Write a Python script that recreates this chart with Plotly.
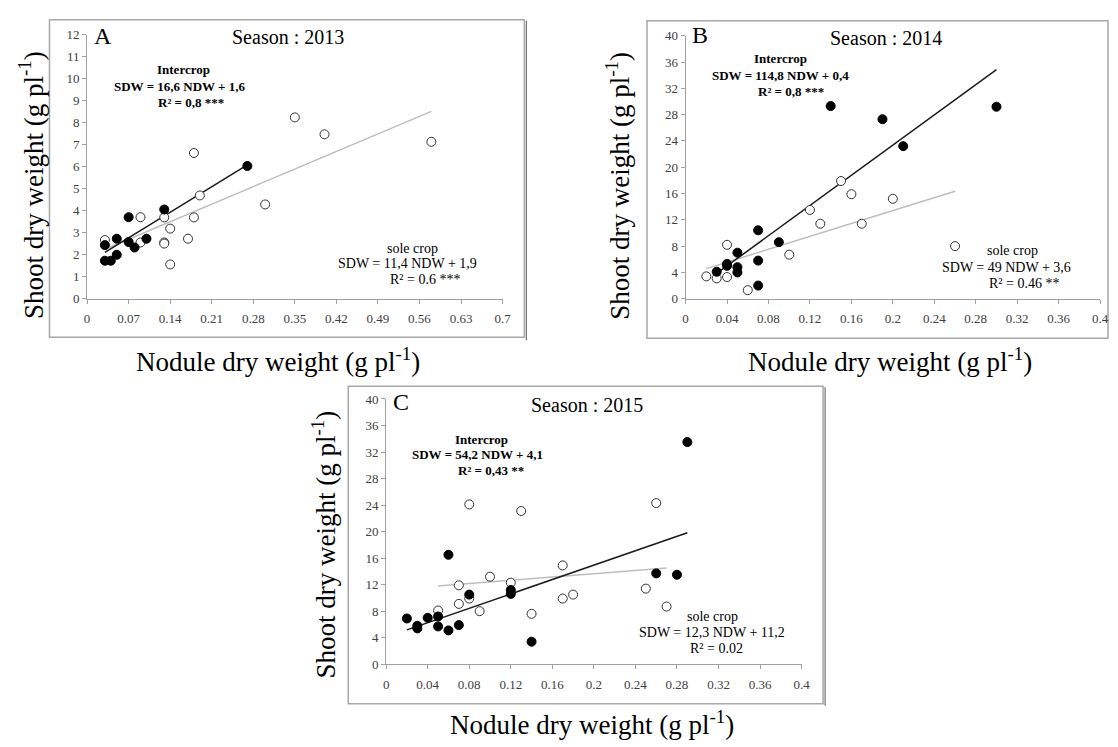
import plotly.graph_objects as go

W, H = 1118, 747
SERIF = "Liberation Serif"

# ---- Season 2013 (panel A) ----
a_inter_ndw = [0.03, 0.04, 0.03, 0.05, 0.05, 0.07, 0.07, 0.08, 0.10, 0.13, 0.27]
a_inter_sdw = [1.72, 1.72, 2.43, 1.99, 2.72, 3.70, 2.57, 2.32, 2.72, 4.05, 6.03]
a_sole_ndw = [0.03, 0.09, 0.09, 0.13, 0.13, 0.13, 0.14, 0.14, 0.17, 0.18, 0.18, 0.19, 0.30, 0.35, 0.40, 0.58]
a_sole_sdw = [2.66, 3.70, 2.55, 3.69, 2.55, 2.50, 3.18, 1.55, 2.72, 6.62, 3.69, 4.69, 4.28, 8.24, 7.47, 7.13]
a_inter_fit = (16.6, 1.6)
a_sole_fit = (11.4, 1.9)

# ---- Season 2014 (panel B) ----
b_inter_ndw = [0.03, 0.04, 0.04, 0.05, 0.05, 0.05, 0.07, 0.07, 0.07, 0.09, 0.14, 0.19, 0.21, 0.30]
b_inter_sdw = [4.1, 5.3, 5.0, 7.0, 4.8, 4.0, 10.4, 5.8, 2.0, 8.6, 29.3, 27.3, 23.2, 29.2]
b_sole_ndw = [0.02, 0.03, 0.04, 0.04, 0.06, 0.10, 0.12, 0.13, 0.15, 0.16, 0.17, 0.20, 0.26]
b_sole_sdw = [3.4, 3.1, 3.3, 8.2, 1.3, 6.7, 13.5, 11.4, 17.9, 15.9, 11.4, 15.2, 8.0]
b_inter_fit = (114.8, 0.4)
b_sole_fit = (49.0, 3.6)

# ---- Season 2015 (panel C) ----
c_inter_ndw = [0.02, 0.03, 0.03, 0.04, 0.05, 0.05, 0.06, 0.06, 0.07, 0.08, 0.12, 0.12, 0.14, 0.26, 0.28, 0.29]
c_inter_sdw = [6.9, 5.8, 5.4, 7.0, 7.2, 5.7, 5.1, 16.5, 5.9, 10.5, 11.2, 10.6, 3.4, 13.7, 13.5, 33.5]
c_sole_ndw = [0.05, 0.07, 0.07, 0.08, 0.08, 0.09, 0.10, 0.12, 0.13, 0.14, 0.17, 0.17, 0.18, 0.25, 0.26, 0.27]
c_sole_sdw = [8.1, 11.9, 9.1, 24.1, 9.9, 8.0, 13.2, 12.3, 23.1, 7.6, 14.9, 9.9, 10.5, 11.4, 24.3, 8.7]
c_inter_fit = (54.2, 4.1)
c_sole_fit = (12.3, 11.2)

# tick labels
x_ticks_a = [0, 0.07, 0.14, 0.21, 0.28, 0.35, 0.42, 0.49, 0.56, 0.63, 0.7]
x_ticks_bc = [0, 0.04, 0.08, 0.12, 0.16, 0.2, 0.24, 0.28, 0.32, 0.36, 0.4]
y_ticks_a = list(range(0, 13))
y_ticks_bc = list(range(0, 41, 4))


def px(x, y):
    """pixel position -> paper coordinates"""
    return x / W, 1 - y / H


fig = go.Figure()

panels = [
    dict(key="", ndw_i=a_inter_ndw, sdw_i=a_inter_sdw, ndw_s=a_sole_ndw, sdw_s=a_sole_sdw,
         fi=a_inter_fit, fs=a_sole_fit),
    dict(key="2", ndw_i=b_inter_ndw, sdw_i=b_inter_sdw, ndw_s=b_sole_ndw, sdw_s=b_sole_sdw,
         fi=b_inter_fit, fs=b_sole_fit),
    dict(key="3", ndw_i=c_inter_ndw, sdw_i=c_inter_sdw, ndw_s=c_sole_ndw, sdw_s=c_sole_sdw,
         fi=c_inter_fit, fs=c_sole_fit),
]

for p in panels:
    xa, ya = "x" + p["key"], "y" + p["key"]
    # regression lines across the range of each series
    for xs, fit, col in [(p["ndw_s"], p["fs"], "#bdbdbd"), (p["ndw_i"], p["fi"], "#1a1a1a")]:
        x0, x1 = min(xs), max(xs)
        fig.add_trace(go.Scatter(
            x=[x0, x1], y=[fit[0] * x0 + fit[1], fit[0] * x1 + fit[1]],
            mode="lines", line=dict(color=col, width=1.5),
            xaxis=xa, yaxis=ya, showlegend=False, hoverinfo="skip", cliponaxis=False))
    fig.add_trace(go.Scatter(
        x=p["ndw_s"], y=p["sdw_s"], mode="markers",
        marker=dict(size=9, color="white", line=dict(color="#333333", width=1)),
        xaxis=xa, yaxis=ya, showlegend=False, cliponaxis=False, name="sole crop"))
    fig.add_trace(go.Scatter(
        x=p["ndw_i"], y=p["sdw_i"], mode="markers",
        marker=dict(size=9, color="black", line=dict(color="black", width=1)),
        xaxis=xa, yaxis=ya, showlegend=False, cliponaxis=False, name="Intercrop"))

axis_common = dict(
    showline=True, linecolor="#a0a0a0", linewidth=1, ticks="outside", ticklen=4,
    tickcolor="#a0a0a0", showgrid=False, zeroline=False,
    tickfont=dict(family=SERIF, size=13, color="#404040"),
)


def dom_x(a, b):
    return [a / W, b / W]


def dom_y(top, bottom):
    return [1 - bottom / H, 1 - top / H]


fig.update_layout(
    width=W, height=H, margin=dict(l=0, r=0, t=0, b=0),
    paper_bgcolor="white", plot_bgcolor="white",
    xaxis=dict(domain=dom_x(85, 505), range=[0, 0.7], tickvals=x_ticks_a,
               ticktext=[f"{v:g}" for v in x_ticks_a], anchor="y", ticklabelstandoff=4, **axis_common),
    yaxis=dict(domain=dom_y(28.3, 297.5), range=[0, 12], tickvals=y_ticks_a, anchor="x", **axis_common),
    xaxis2=dict(domain=dom_x(690, 1109), range=[0, 0.4], tickvals=x_ticks_bc,
                ticktext=[f"{v:g}" for v in x_ticks_bc], anchor="y2", ticklabelstandoff=4, **axis_common),
    yaxis2=dict(domain=dom_y(29.3, 297.7), range=[0, 40], tickvals=y_ticks_bc, anchor="x2", **axis_common),
    xaxis3=dict(domain=dom_x(387.3, 807.3), range=[0, 0.4], tickvals=x_ticks_bc,
                ticktext=[f"{v:g}" for v in x_ticks_bc], anchor="y3", ticklabelstandoff=4, **axis_common),
    yaxis3=dict(domain=dom_y(400, 670.7), range=[0, 40], tickvals=y_ticks_bc, anchor="x3", **axis_common),
)

# panel frames
shapes = []
for (l, t, r, b) in [(47, 13, 527, 337), (651, 14, 1117, 338), (349, 387, 829, 711)]:
    x0, y1 = px(l, t)
    x1, y0 = px(r, b)
    shapes.append(dict(type="rect", xref="paper", yref="paper", x0=x0, x1=x1, y0=y0, y1=y1,
                       line=dict(color="#a8a8a8", width=1.5), layer="below"))
for (x, t, b) in [(529, 14, 340), (831, 388, 713)]:
    xx, yt = px(x, t)
    _, yb = px(x, b)
    shapes.append(dict(type="line", xref="paper", yref="paper", x0=xx, x1=xx, y0=yb, y1=yt,
                       line=dict(color="#555555", width=1)))
fig.update_layout(shapes=shapes)

annotations = []


def text(x, y, s, size, bold=False, angle=0, color="black"):
    xx, yy = px(x, y)
    annotations.append(dict(
        x=xx, y=yy, xref="paper", yref="paper", text=f"<b>{s}</b>" if bold else s,
        showarrow=False, textangle=angle, xanchor="center", yanchor="middle",
        font=dict(family=SERIF, size=size, color=color)))


# panel letters and season titles
text(101, 30, "A", 24)
text(288, 31, "Season : 2013", 20)
text(705, 29, "B", 24)
text(893, 32, "Season : 2014", 20)
text(402, 403, "C", 24)
text(590, 406, "Season : 2015", 20)

# equations
text(182, 64, "Intercrop", 13, bold=True)
text(178, 81, "SDW = 16,6 NDW + 1,6", 13, bold=True)
text(190, 97, "R² = 0,8 ***", 13, bold=True)
text(414, 246, "sole crop", 14)
text(409, 262, "SDW = 11,4 NDW + 1,9", 14)
text(427, 278, "R² = 0.6 ***", 14)

text(786, 53, "Intercrop", 13, bold=True)
text(786, 70, "SDW = 114,8 NDW + 0,4", 13, bold=True)
text(797, 86, "R² = 0,8 ***", 13, bold=True)
text(1020, 249, "sole crop", 14)
text(1014, 266, "SDW = 49 NDW + 3,6", 14)
text(1032, 282, "R² = 0.46 **", 14)

text(484, 441, "Intercrop", 13, bold=True)
text(480, 457, "SDW = 54,2 NDW + 4,1", 13, bold=True)
text(493, 473, "R² = 0,43 **", 13, bold=True)
text(717, 622, "sole crop", 14)
text(717, 638, "SDW = 12,3 NDW + 11,2", 14)
text(721, 655, "R² = 0.02", 14)

# axis titles
xlab = "Nodule dry weight (g pl<sup>-1</sup>)"
ylab = "Shoot dry weight (g pl<sup>-1</sup>)"
text(278, 360, xlab, 27)
text(897, 360, xlab, 27)
text(595, 731, xlab, 27)
text(29, 182, ylab, 27, angle=-90)
text(622, 182, ylab, 27, angle=-90)
text(324, 549, ylab, 27, angle=-90)

fig.update_layout(annotations=annotations)
fig.write_html("out.html")
